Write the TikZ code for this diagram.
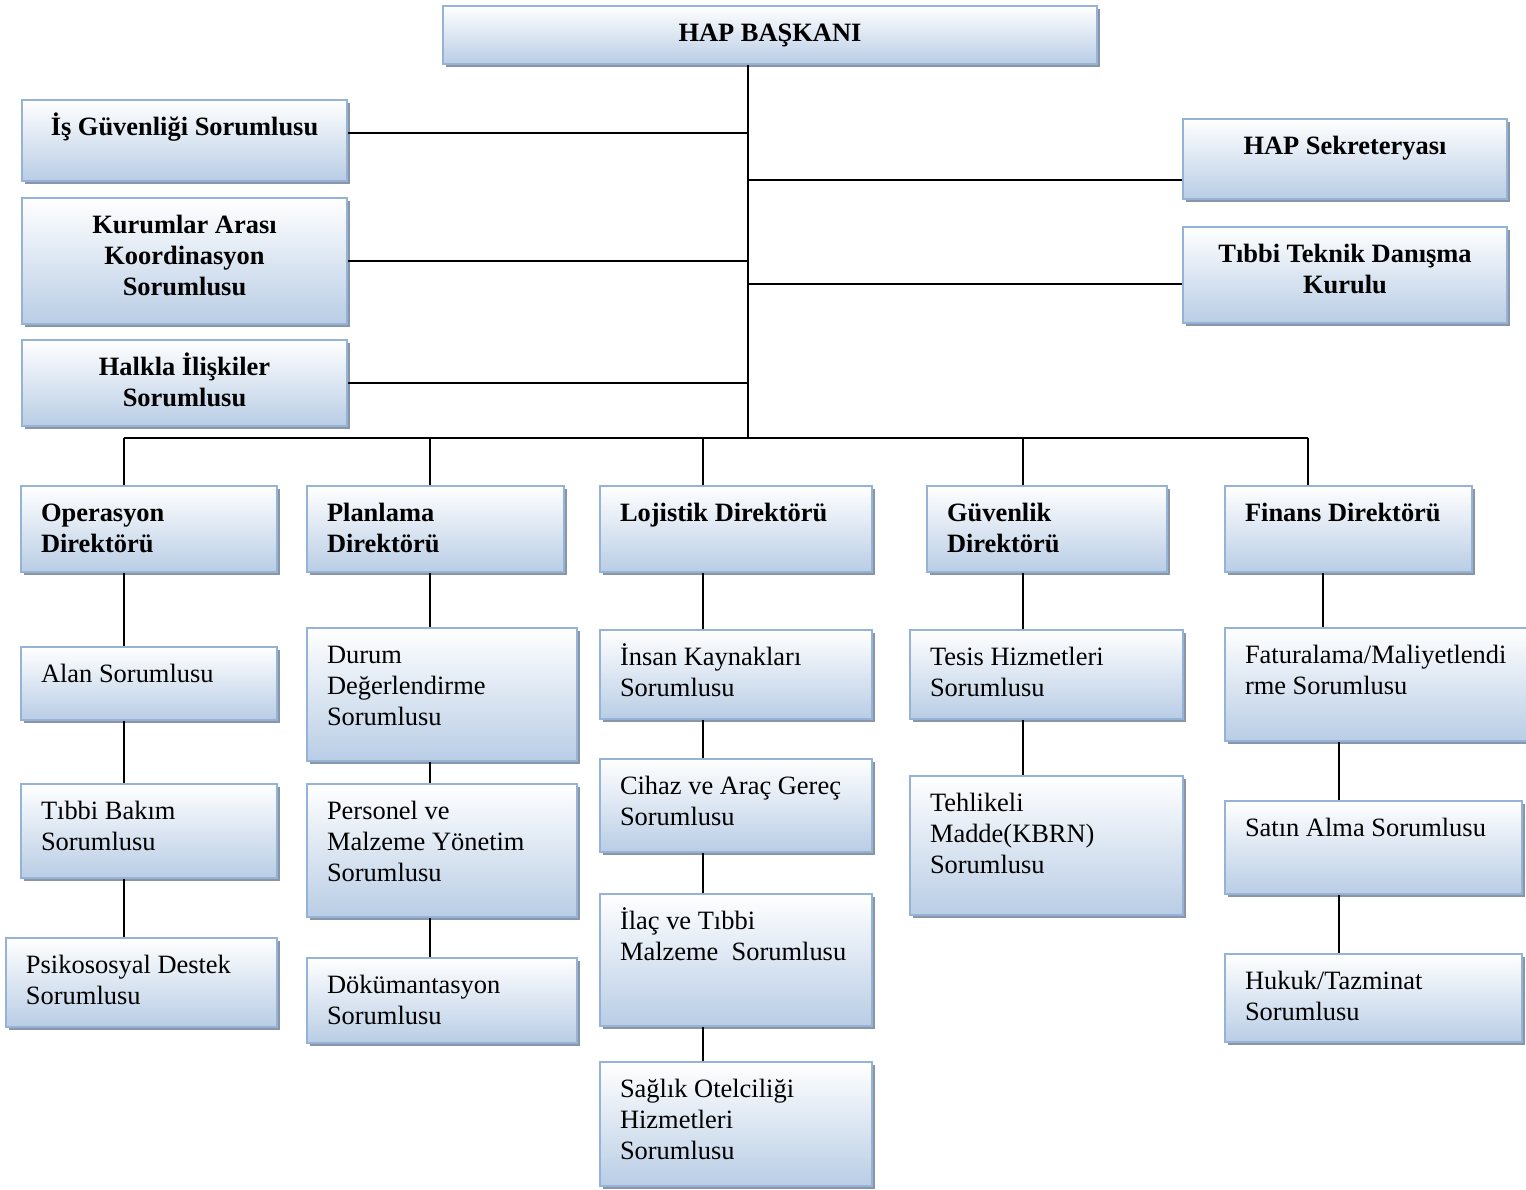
\documentclass[tikz,border=0pt]{standalone}
\usepackage{fontspec}
\setmainfont{Liberation Serif}
\usepackage{tikz}
\usetikzlibrary{shadows}
\definecolor{BoxBlue}{RGB}{185, 205, 229}
\definecolor{BoxEdge}{RGB}{148, 179, 214}
\definecolor{BoxShadow}{RGB}{138, 150, 166}
\newdimen\px \px=0.45pt
% text block inside a box: width, height, alignment, text
\newcommand{\boxtxt}[4]{\parbox[t][#2\px][t]{#1\px}{#3\rule{0pt}{35\px}#4}}
\newcommand{\lft}{\raggedright\leftskip=20\px}
\tikzset{
  unit/.style={rectangle, draw=BoxEdge, line width=0.9pt, inner sep=0pt,
               top color=white, bottom color=BoxBlue, anchor=north west,
               drop shadow={shadow xshift=1.5pt, shadow yshift=-1.5pt,
                            fill=BoxShadow, opacity=1},
               font=\fontsize{11.9}{13.95}\selectfont, text=black},
  head/.style={unit, font=\fontsize{11.9}{13.95}\selectfont\bfseries},
  link/.style={line width=0.8pt, color=black},
}

\begin{document}
\begin{tikzpicture}[x=0.45pt, y=-0.45pt]
      \useasboundingbox (0,0) rectangle (1526,1189);

      % Head
      \node[head] (hap) at (442,5) {\boxtxt{654}{58}{\centering}{HAP BAŞKANI}};

      % Staff units
      \node[head] (isg) at (21,99)  {\boxtxt{325}{81}{\centering}{İş Güvenliği Sorumlusu}};
      \node[head] (kas) at (21,197) {\boxtxt{325}{126}{\centering}{Kurumlar Arası\\Koordinasyon\\Sorumlusu}};
      \node[head] (hil) at (21,339) {\boxtxt{325}{86}{\centering}{Halkla İlişkiler\\Sorumlusu}};
      \node[head] (sek) at (1182,118) {\boxtxt{324}{80}{\centering}{HAP Sekreteryası}};
      \node[head] (ttd) at (1182,226) {\boxtxt{324}{96}{\centering}{Tıbbi Teknik Danışma\\Kurulu}};

      % Directorates
      \node[head] (op) at (20,485)   {\boxtxt{256}{86}{\lft}{Operasyon\\Direktörü}};
      \node[head] (pl) at (306,485)  {\boxtxt{257}{86}{\lft}{Planlama\\Direktörü}};
      \node[head] (lo) at (599,485)  {\boxtxt{272}{86}{\lft}{Lojistik Direktörü}};
      \node[head] (gu) at (926,485)  {\boxtxt{240}{86}{\lft}{Güvenlik\\Direktörü}};
      \node[head] (fi) at (1224,485) {\boxtxt{247}{86}{\lft}{Finans Direktörü}};

      % Operasyon
      \node[unit] (alan) at (20,646) {\boxtxt{256}{73}{\lft}{Alan Sorumlusu}};
      \node[unit] (tbak) at (20,783) {\boxtxt{256}{94}{\lft}{Tıbbi Bakım\\Sorumlusu}};
      \node[unit] (psi)  at (5,937)  {\boxtxt{271}{89}{\lft}{Psikososyal Destek\\Sorumlusu}};

      % Planlama
      \node[unit] (dur) at (306,627) {\boxtxt{270}{133}{\lft}{Durum\\Değerlendirme\\Sorumlusu}};
      \node[unit] (per) at (306,783) {\boxtxt{270}{133}{\lft}{Personel ve\\Malzeme Yönetim\\Sorumlusu}};
      \node[unit] (dok) at (306,957) {\boxtxt{270}{85}{\lft}{Dökümantasyon\\Sorumlusu}};

      % Lojistik
      \node[unit] (ik)   at (599,629)  {\boxtxt{272}{89}{\lft}{İnsan Kaynakları\\Sorumlusu}};
      \node[unit] (cih)  at (599,758)  {\boxtxt{272}{93}{\lft}{Cihaz ve Araç Gereç\\Sorumlusu}};
      \node[unit] (ilac) at (599,893)  {\boxtxt{272}{132}{\lft}{İlaç ve Tıbbi\\Malzeme\ \ Sorumlusu}};
      \node[unit] (sag)  at (599,1061) {\boxtxt{272}{124}{\lft}{Sağlık Otelciliği\\Hizmetleri\\Sorumlusu}};

      % Guvenlik
      \node[unit] (tes) at (909,629) {\boxtxt{273}{89}{\lft}{Tesis Hizmetleri\\Sorumlusu}};
      \node[unit] (teh) at (909,775) {\boxtxt{273}{139}{\lft}{Tehlikeli\\Madde(KBRN)\\Sorumlusu}};

      % Finans
      \node[unit] (fat) at (1224,627) {\boxtxt{306}{113}{\lft}{Faturalama/Maliyetlendi\\rme Sorumlusu}};
      \node[unit] (sat) at (1224,800) {\boxtxt{297}{93}{\lft}{Satın Alma Sorumlusu}};
      \node[unit] (huk) at (1224,953) {\boxtxt{297}{88}{\lft}{Hukuk/Tazminat\\Sorumlusu}};

      % Trunk and bus
      \coordinate (trunk) at (748,438);
      \coordinate (d1) at (124,438);
      \coordinate (d2) at (430,438);
      \coordinate (d3) at (703,438);
      \coordinate (d4) at (1023,438);
      \coordinate (d5) at (1308,438);
      \coordinate (c5) at (1323,0);
      \coordinate (c6) at (1339,0);

      \draw[link] (hap.south -| trunk) -- (trunk);
      \draw[link] (d1) -- (d5);

      \draw[link] ([yshift=3.4pt]isg.east) -- ([yshift=3.4pt]isg.east -| trunk);
      \draw[link] (kas.east) -- (kas.east -| trunk);
      \draw[link] (hil.east) -- (hil.east -| trunk);
      \draw[link] ([yshift=-9.4pt]sek.west) -- ([yshift=-9.4pt]sek.west -| trunk);
      \draw[link] ([yshift=-4pt]ttd.west) -- ([yshift=-4pt]ttd.west -| trunk);

      \draw[link] (d1) -- (op.north -| d1);
      \draw[link] (d2) -- (pl.north -| d2);
      \draw[link] (d3) -- (lo.north -| d3);
      \draw[link] (d4) -- (gu.north -| d4);
      \draw[link] (d5) -- (fi.north -| d5);

      \draw[link] (op.south -| d1) -- (alan.north -| d1);
      \draw[link] (alan.south -| d1) -- (tbak.north -| d1);
      \draw[link] (tbak.south -| d1) -- (psi.north -| d1);

      \draw[link] (pl.south -| d2) -- (dur.north -| d2);
      \draw[link] (dur.south -| d2) -- (per.north -| d2);
      \draw[link] (per.south -| d2) -- (dok.north -| d2);

      \draw[link] (lo.south -| d3) -- (ik.north -| d3);
      \draw[link] (ik.south -| d3) -- (cih.north -| d3);
      \draw[link] (cih.south -| d3) -- (ilac.north -| d3);
      \draw[link] (ilac.south -| d3) -- (sag.north -| d3);

      \draw[link] (gu.south -| d4) -- (tes.north -| d4);
      \draw[link] (tes.south -| d4) -- (teh.north -| d4);

      \draw[link] (fi.south -| c5) -- (fat.north -| c5);
      \draw[link] (fat.south -| c6) -- (sat.north -| c6);
      \draw[link] (sat.south -| c6) -- (huk.north -| c6);
\end{tikzpicture}
\end{document}
